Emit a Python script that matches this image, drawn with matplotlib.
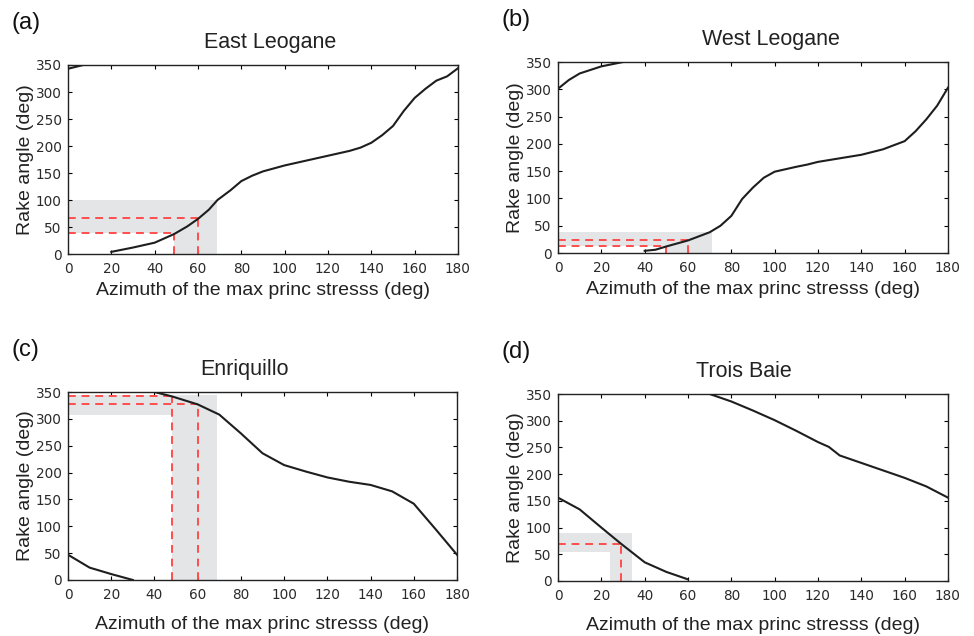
from matplotlib import pyplot as plt
import numpy as np

# azimuth (deg) / rake (deg), two branches per fault
east_az1 = [0, 5, 10]
east_rk1 = [343, 348, 353]
east_az2 = [20, 30, 40, 49, 55, 60, 65, 69, 75, 80, 85, 90, 100, 110, 120, 130, 135, 140, 145, 150, 155, 160, 165, 170, 175, 180]
east_rk2 = [4, 12, 21, 37, 51, 65, 82, 100, 118, 135, 145, 153, 164, 173, 182, 191, 197, 206, 220, 237, 265, 289, 306, 321, 329, 344]

west_az1 = [0, 5, 10, 20, 30]
west_rk1 = [301, 317, 329, 342, 350]
west_az2 = [40, 45, 50, 60, 70, 75, 80, 85, 90, 95, 100, 110, 115, 120, 140, 150, 160, 165, 170, 175, 180]
west_rk2 = [4, 6, 12, 23, 38, 50, 68, 99, 120, 138, 149, 158, 162, 167, 180, 190, 205, 223, 245, 270, 303]

enr_az1 = [0, 10, 20, 30]
enr_rk1 = [47, 23, 11, 0]
enr_az2 = [40, 48, 60, 70, 80, 90, 100, 110, 120, 130, 140, 150, 160, 170, 180]
enr_rk2 = [350, 342, 327, 308, 273, 236, 214, 202, 191, 183, 177, 165, 142, 95, 47]

trois_az1 = [0, 10, 20, 29, 40, 50, 60]
trois_rk1 = [156, 134, 100, 70, 35, 17, 3]
trois_az2 = [70, 80, 90, 100, 110, 120, 125, 130, 140, 150, 160, 170, 180]
trois_rk2 = [350, 336, 319, 301, 281, 260, 251, 235, 221, 207, 193, 177, 156]

# gray bands: (x0, x1, y0, y1) horizontal band, vertical band
east_band = [(0, 69, 38, 100), (49, 69, 0, 100)]
west_band = [(0, 71, 12, 38), (50, 71, 0, 38)]
enr_band = [(0, 69, 307, 345), (48, 69, 0, 345)]
trois_band = [(0, 34, 55, 90), (24, 34, 0, 90)]

# red dashed picks (azimuth, rake)
east_picks = [(49, 38), (60, 66)]
west_picks = [(50, 12), (60, 23)]
enr_picks = [(48, 342), (60, 328)]
trois_picks = [(29, 70)]

panels = [
    ("(a)", "East Leogane", [(east_az1, east_rk1), (east_az2, east_rk2)], east_band, east_picks),
    ("(b)", "West Leogane", [(west_az1, west_rk1), (west_az2, west_rk2)], west_band, west_picks),
    ("(c)", "Enriquillo", [(enr_az1, enr_rk1), (enr_az2, enr_rk2)], enr_band, enr_picks),
    ("(d)", "Trois Baie", [(trois_az1, trois_rk1), (trois_az2, trois_rk2)], trois_band, trois_picks),
]

# axes boxes in figure fraction [left, bottom, width, height]
boxes = [
    [0.0698, 0.6006, 0.4004, 0.2972],
    [0.5729, 0.6022, 0.4004, 0.3003],
    [0.0698, 0.0881, 0.3994, 0.2955],
    [0.5729, 0.0865, 0.4004, 0.2940],
]
xlabel_pad = [4, 4, 10, 10]
title_x = [0.518, 0.546, 0.455, 0.477]

fig = plt.figure(figsize=(9.74, 6.36), dpi=100)
label_font = ['Liberation Sans', 'DejaVu Sans']

for i, (tag, title, branches, band, picks) in enumerate(panels):
    ax = fig.add_axes(boxes[i])
    for x0, x1, y0, y1 in band:
        ax.fill_between([x0, x1], y0, y1, color='#e4e5e7', lw=0, zorder=1)
    for px, py in picks:
        ax.plot([0, px], [py, py], ls=(0, (4, 3)), color='#ff4d4d', lw=1.4, zorder=2)
        ax.plot([px, px], [0, py], ls=(0, (4, 3)), color='#ff4d4d', lw=1.4, zorder=2)
    for bx, by in branches:
        ax.plot(bx, by, color='#1e1e1e', lw=1.5, zorder=3)
    ax.set_xlim(0, 180)
    ax.set_ylim(0, 350)
    ax.set_xticks(np.arange(0, 181, 20))
    ax.set_yticks(np.arange(0, 351, 50))
    ax.tick_params(direction='in', length=3, top=True, right=True,
                   labelsize=9.8, labelcolor='#2a2a2a')
    ax.tick_params(axis='x', pad=6)
    ax.tick_params(axis='y', pad=4.5)
    for s in ax.spines.values():
        s.set_linewidth(1.0)
        s.set_color('#222222')
    ax.set_title(title, fontsize=15.5, family=label_font, pad=12, color='#222222',
                 x=title_x[i])
    ax.set_xlabel("Azimuth of the max princ stresss (deg)", fontsize=14,
                  family=label_font, labelpad=xlabel_pad[i], color='#222222')
    ax.set_ylabel("Rake angle (deg)", fontsize=14, family=label_font,
                  labelpad=1, color='#222222')
    bx0, by0, bw, bh = boxes[i]
    fig.text(bx0 - 0.058, by0 + bh + 0.066, tag, fontsize=17,
             family=label_font, color='#111111', va='center')

fig.savefig("out.png", dpi=100)
